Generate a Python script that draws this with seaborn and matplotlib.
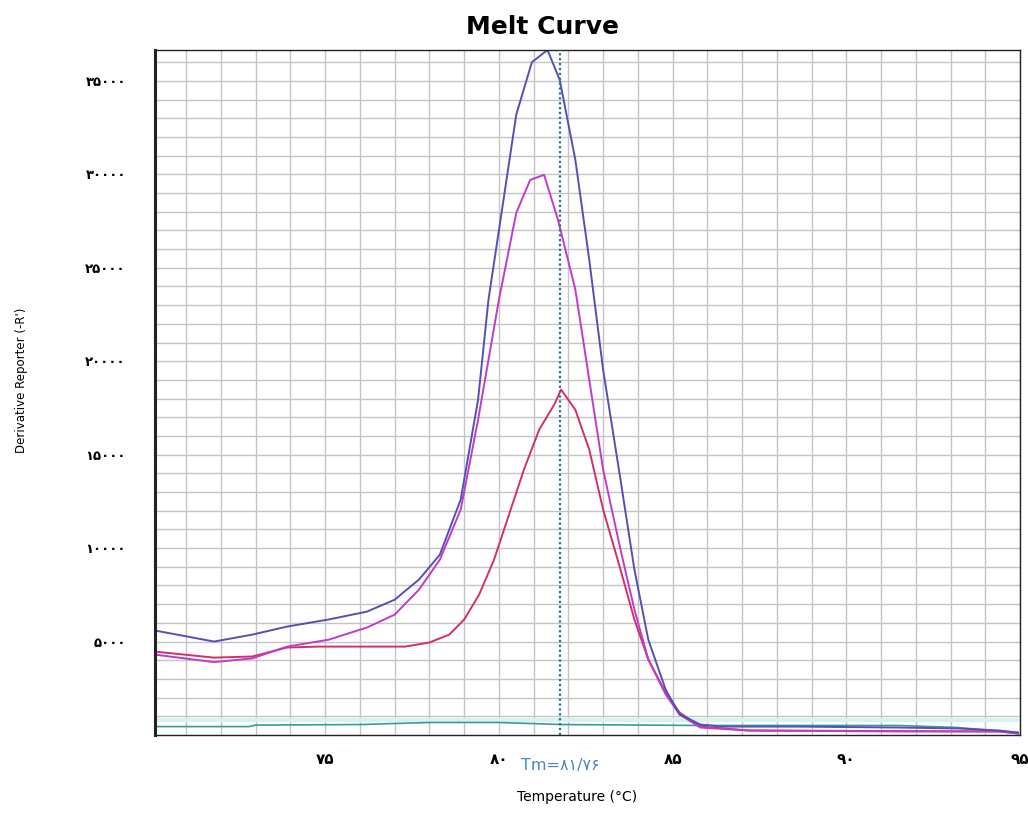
import matplotlib
matplotlib.use("Agg")
import matplotlib.pyplot as plt
import seaborn as sns
import numpy as np

# Melt curve readings, temperature (C) vs derivative reporter (-R')
blue_t = [70.1, 71.8, 72.9, 73.9, 75.1, 76.2, 77.0, 77.7, 78.3, 78.9, 79.4,
          79.7, 80.0, 80.5, 80.95, 81.4, 81.75, 82.2, 82.6, 83.0, 83.5, 83.9,
          84.3, 84.8, 85.2, 85.8, 86.4, 88.6, 91.5, 93.2, 94.4, 94.95]
blue_v = [5590, 5000, 5370, 5800, 6180, 6600, 7240, 8320, 9650, 12600, 17940,
          23300, 27000, 33200, 36000, 36650, 35050, 30780, 25430, 19540, 13660,
          8850, 5100, 2430, 1100, 560, 450, 450, 400, 350, 240, 130]

magenta_t = [70.1, 71.8, 72.9, 73.9, 75.1, 76.2, 77.0, 77.7, 78.3, 78.9, 79.4,
             80.0, 80.5, 80.9, 81.3, 81.7, 82.2, 82.6, 83.0, 83.5, 83.9, 84.3,
             84.8, 85.2, 85.8, 87.2, 91.5, 94.4, 94.95]
magenta_v = [4300, 3900, 4100, 4730, 5100, 5750, 6440, 7780, 9380, 12060, 16870,
             23290, 27940, 29700, 29970, 27570, 23830, 19010, 14200, 9920, 6710,
             4040, 2170, 1100, 400, 240, 190, 190, 80]

red_t = [70.1, 71.8, 72.9, 73.9, 74.8, 77.3, 78.0, 78.57, 79.0, 79.43, 79.86,
         80.29, 80.72, 81.16, 81.59, 81.79, 82.2, 82.6, 83.0, 83.5, 83.9, 84.3,
         84.8, 85.2, 85.8, 87.2, 94.4, 94.95]
red_v = [4460, 4140, 4200, 4680, 4730, 4730, 4950, 5370, 6180, 7510, 9380,
         11790, 14200, 16340, 17670, 18480, 17400, 15270, 12060, 8850, 6180,
         4040, 2270, 1200, 450, 240, 190, 80]

cyan_t = [70.1, 72.8, 73.0, 76.0, 78.0, 80.0, 81.8, 85.8, 91.5, 93.2, 94.95]
cyan_v = [450, 450, 530, 560, 670, 670, 560, 510, 510, 400, 130]

TM = 81.76
x_ticks = [75, 80, 85, 90, 95]
x_labels = ["۷۵", "۸۰", "۸۵", "۹۰", "۹۵"]
y_ticks = [5000, 10000, 15000, 20000, 25000, 30000, 35000]
y_labels = ["۵۰۰۰", "۱۰۰۰۰", "۱۵۰۰۰", "۲۰۰۰۰", "۲۵۰۰۰", "۳۰۰۰۰", "۳۵۰۰۰"]
tm_label = "Tm=۸۱/۷۶"


def main():
    sns.set_style("white")
    plt.rcParams['font.family'] = ['DejaVu Sans']
    plt.rcParams['text.color'] = 'black'
    plt.rcParams['xtick.labelcolor'] = 'black'
    plt.rcParams['ytick.labelcolor'] = 'black'

    fig = plt.figure(figsize=(10.28, 8.15), dpi=100)
    ax = fig.add_axes([155 / 1028, 80 / 815, 865 / 1028, 685 / 815])

    ax.axhline(820, color="#d6f3f3", lw=3, zorder=1)
    sns.lineplot(x=cyan_t, y=cyan_v, ax=ax, color="#3c9a9c", lw=1.2)
    sns.lineplot(x=red_t, y=red_v, ax=ax, color="#d0306c", lw=1.4)
    sns.lineplot(x=magenta_t, y=magenta_v, ax=ax, color="#c03cc8", lw=1.4)
    sns.lineplot(x=blue_t, y=blue_v, ax=ax, color="#5450b4", lw=1.4)
    ax.axvline(TM, color="#2f6e8c", lw=1.6, ls=(0, (1, 1.2)), zorder=5)

    ax.set_xlim(70.1, 95.0)
    ax.set_ylim(0, 36650)

    ax.set_xticks(x_ticks)
    ax.set_xticklabels(x_labels, fontsize=11, fontweight="bold")
    ax.set_xticks(np.arange(71, 95), minor=True)
    ax.set_yticks(y_ticks)
    ax.set_yticklabels(y_labels, fontsize=9.5, fontweight="bold")
    ax.set_yticks(np.arange(1000, 36001, 1000), minor=True)

    ax.grid(True, which="both", color="#c4c4c4", lw=1)
    ax.set_axisbelow(True)
    ax.tick_params(axis="x", which="both", direction="out", length=5,
                   color="#b0b0b0", pad=7)
    ax.tick_params(axis="y", which="major", direction="out", length=16,
                   color="#b0b0b0", pad=5)
    ax.tick_params(axis="y", which="minor", direction="out", length=5,
                   color="#b0b0b0")

    for side in ["top", "right", "bottom"]:
        ax.spines[side].set_color("#222222")
        ax.spines[side].set_linewidth(1.0)
    ax.spines["left"].set_color("#222222")
    ax.spines["left"].set_linewidth(2.2)

    ax.set_xlabel("")
    ax.set_ylabel("")

    ax.text(TM, -0.045, tm_label, transform=ax.get_xaxis_transform(),
            ha="center", va="center", fontsize=11.5, color="#4a86c0")

    fig.text(542 / 1028, 1 - 27 / 815, "Melt Curve", ha="center",
             va="center", fontsize=18, fontweight="heavy")
    fig.text(577 / 1028, 1 - 797 / 815, "Temperature (°C)", ha="center",
             va="center", fontsize=10)
    fig.text(22 / 1028, 1 - 380 / 815, "Derivative Reporter (-R')",
             ha="center", va="center", rotation=90, fontsize=8.5,
             family=["Liberation Sans Narrow", "DejaVu Sans"])

    fig.savefig("out.png", dpi=100, facecolor="white")


if __name__ == '__main__':
    main()
